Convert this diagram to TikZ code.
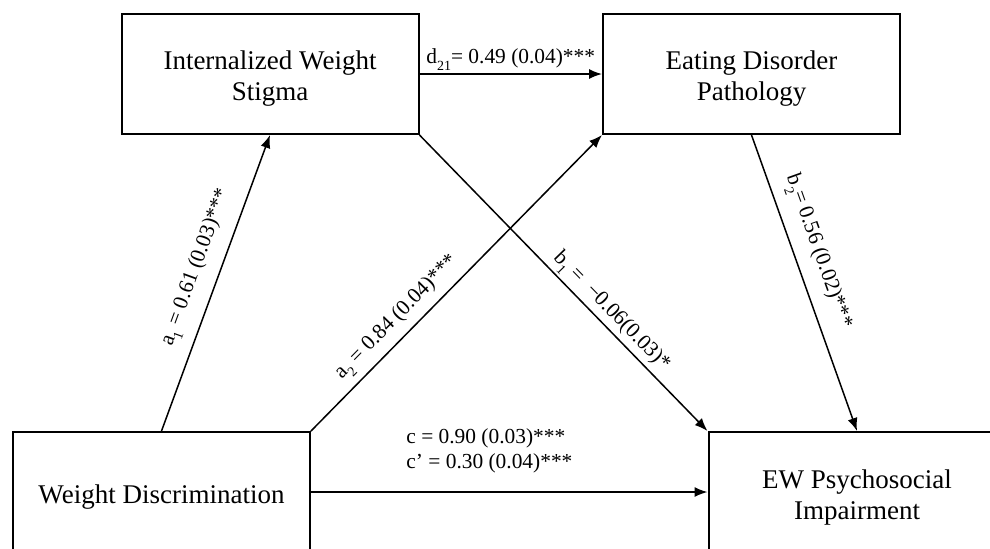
\documentclass[tikz,border=0pt]{standalone}
\usepackage{fontspec}
\setmainfont{Liberation Serif}
\usetikzlibrary{arrows.meta}
\newcommand{\lsub}[1]{\raisebox{-3.3pt}{\fontsize{7}{7}\selectfont #1}}
\begin{document}
\begin{tikzpicture}[x=0.5pt,y=-0.5pt,
  box/.style={draw, line width=1pt, minimum width=148.5pt, minimum height=60pt, inner sep=0pt},
  boxtext/.style={inner sep=0pt, align=center, font=\fontsize{13.5}{15.5}\selectfont},
  arr/.style={-{Latex[length=6.5pt,width=5pt]}, line width=0.75pt},
  lab/.style={font=\fontsize{10.7}{12.5}\selectfont, inner sep=0pt},
  slab/.style={lab, sloped, anchor=base}
]
\useasboundingbox (0,0) rectangle (990,548);
\clip (0,0) rectangle (990,548);
\node[box] (iws) at (270,74) {};
\node[box] (edp) at (751.5,74) {};
\node[box] (wd) at (161.5,492) {};
\node[box] (ew) at (857,492) {};
\node[boxtext] (iwst) at ([yshift=-2.5pt]iws.center) {Internalized Weight\\Stigma};
\node[boxtext] (edpt) at ([yshift=-2.5pt]edp.center) {Eating Disorder\\Pathology};
\node[boxtext] (wdt) at ([yshift=-2.5pt]wd.center) {Weight Discrimination};
\node[boxtext] (ewt) at ([yshift=-2.5pt]ew.center) {EW Psychosocial\\Impairment};

\draw[arr] (iws.east) -- node[lab, anchor=base, yshift=5.3pt] (ld) {d\lsub{21}= 0.49 (0.04)***} (edp.west);
\draw[arr] (wd.north) -- node[slab, pos=0.525, yshift=9.6pt] (la1) {a\lsub{1} = 0.61 (0.03)***} (iws.south);
\draw[arr] (wd.north east) -- node[slab, pos=0.34, yshift=7pt] (la2) {a\lsub{2} = 0.84 (0.04)***} (edp.south west);
\draw[arr] (iws.south east) -- node[slab, pos=0.63, yshift=4.8pt] (lb1) {b\lsub{1} =~~−0.06(0.03)*} (ew.north west);
\draw[arr] (edp.south) -- node[slab, pos=0.42, yshift=9.5pt] (lb2) {b\lsub{2}= 0.56 (0.02)***} (ew.north);
\draw[arr] (wd.east) -- (ew.west);
\node[lab, anchor=base west] (lc) at (406,443) {c = 0.90 (0.03)***};
\node[lab, anchor=base west] (lcp) at (406,468) {c’ = 0.30 (0.04)***};
\end{tikzpicture}
\end{document}
